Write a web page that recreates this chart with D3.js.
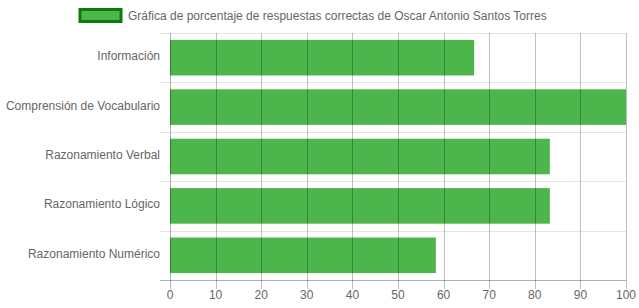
<!DOCTYPE html>
<html>
<head>
<meta charset="utf-8">
<script src="https://cdn.jsdelivr.net/npm/d3@7"></script>
<style>
  body { margin: 0; background: #fff; }
  svg text { font-family: "Liberation Sans", Arial, sans-serif; font-size: 12px; fill: #666; }
</style>
</head>
<body>
<div id="chart"></div>
<script>
(function(){

    var width = 639;
    var height = 308;

    // chart data
    var categories = ["Información", "Comprensión de Vocabulario", "Razonamiento Verbal",
                      "Razonamiento Lógico", "Razonamiento Numérico"];
    var values = [66.7, 100, 83.3, 83.3, 58.3];
    var xTicks = [0, 10, 20, 30, 40, 50, 60, 70, 80, 90, 100];
    var legendLabel = "Gráfica de porcentaje de respuestas correctas de Oscar Antonio Santos Torres";

    var left = 170, right = 626, top = 33, bottom = 280;
    var barFrac = 0.72; // category 0.8 * bar 0.9

    var svg = d3.select("#chart")
        .append("svg")
        .attr("width", width)
        .attr("height", height);

    var x = d3.scaleLinear().domain([0, 100]).range([left, right]);
    var y = d3.scaleBand().domain(categories).range([top, bottom]);
    var bw = y.bandwidth();

    // horizontal grid lines (category borders) + left ticks
    var hLines = d3.range(categories.length);
    svg.selectAll("line.hgrid")
        .data(hLines)
        .enter()
        .append("line")
        .attr("x1", left - 10)
        .attr("x2", right)
        .attr("y1", function(d) { return Math.round(top + d * bw) + 0.5; })
        .attr("y2", function(d) { return Math.round(top + d * bw) + 0.5; })
        .attr("stroke", "rgba(0,0,0,0.1)");

    // bars
    svg.selectAll("rect.bar")
        .data(values)
        .enter()
        .append("rect")
        .attr("x", x(0))
        .attr("y", function(d, i) { return y(categories[i]) + bw * (1 - barFrac) / 2; })
        .attr("width", function(d) { return x(d) - x(0); })
        .attr("height", bw * barFrac)
        .attr("fill", "rgba(0,150,0,0.7)");

    // vertical grid lines on top, with tick marks below the axis
    svg.selectAll("line.vgrid")
        .data(xTicks)
        .enter()
        .append("line")
        .attr("x1", function(d) { return Math.round(x(d)) + 0.5; })
        .attr("x2", function(d) { return Math.round(x(d)) + 0.5; })
        .attr("y1", top)
        .attr("y2", bottom + 9)
        .attr("stroke", function(d) { return d === 0 ? "rgba(0,0,0,0.3)" : "rgba(0,0,0,0.25)"; });

    // bottom axis line
    svg.append("line")
        .attr("x1", left - 10)
        .attr("x2", right)
        .attr("y1", bottom + 0.5)
        .attr("y2", bottom + 0.5)
        .attr("stroke", "rgba(0,0,0,0.3)");

    // x tick labels
    svg.selectAll("text.xt")
        .data(xTicks)
        .enter()
        .append("text")
        .attr("x", function(d) { return x(d); })
        .attr("y", 299)
        .attr("text-anchor", "middle")
        .text(function(d) { return d; });

    // y labels
    svg.selectAll("text.yt")
        .data(categories)
        .enter()
        .append("text")
        .attr("x", 160)
        .attr("y", function(d) { return y(d) + bw / 2 + 2.5; })
        .attr("text-anchor", "end")
        .text(function(d) { return d; });

    // legend
    svg.append("rect")
        .attr("x", 80)
        .attr("y", 9.5)
        .attr("width", 41)
        .attr("height", 12)
        .attr("fill", "rgba(0,150,0,0.7)")
        .attr("stroke", "#0a7d0a")
        .attr("stroke-width", 3);

    svg.append("text")
        .attr("x", 128)
        .attr("y", 19.5)
        .text(legendLabel);

})();
</script>
</body>
</html>
